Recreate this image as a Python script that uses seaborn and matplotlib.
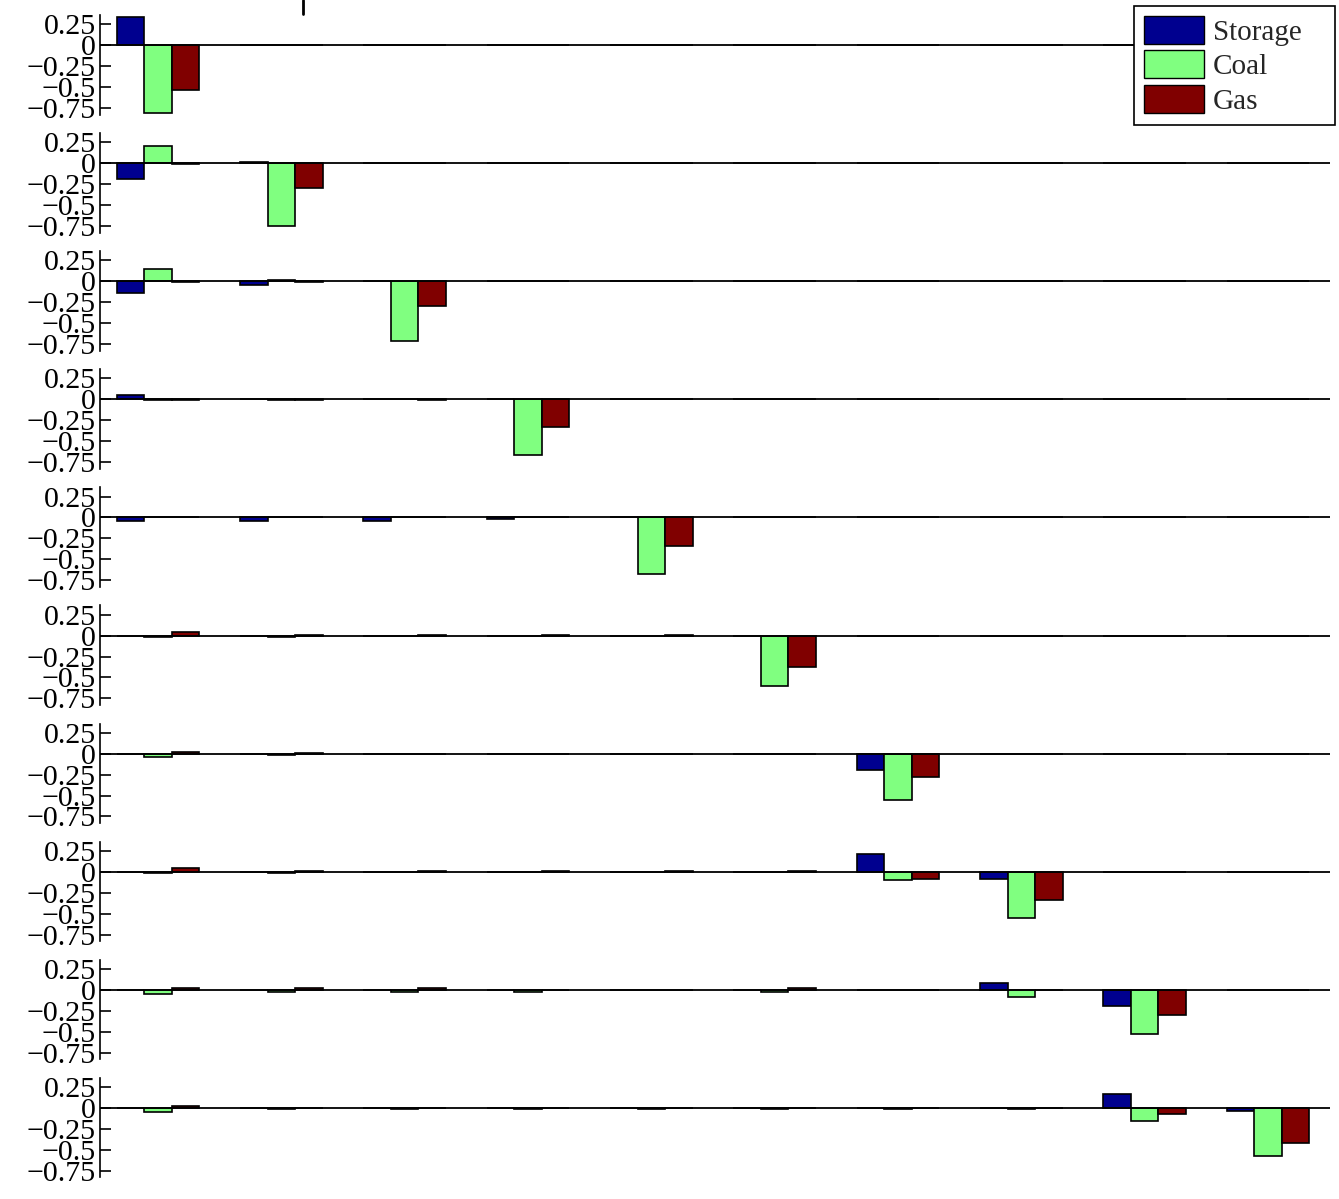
import pandas as pd
import matplotlib.pyplot as plt
import seaborn as sns
from matplotlib.patches import Patch
from matplotlib.lines import Line2D

# Series and categories
sources = ['Storage', 'Coal', 'Gas']
colors = ['#00008F', '#80FF80', '#800000']
groups = list(range(1, 11))
ytick_vals = [-0.75, -0.5, -0.25, 0, 0.25]
ytick_labels = ['\u22120.75', '\u22120.5', '\u22120.25', '0', '0.25']

# one row of 10 group values per panel
storage = [
    [0.34, 0, 0, 0, 0, 0, 0, 0, 0, 0],
    [-0.19, 0.01, 0, 0, 0, 0, 0, 0, 0, 0],
    [-0.14, -0.04, 0, 0, 0, 0, 0, 0, 0, 0],
    [0.05, 0.01, 0.01, 0.01, 0, 0, 0, 0, 0, 0],
    [-0.04, -0.04, -0.04, -0.02, 0, 0, 0, 0, 0, 0],
    [0, 0, 0, 0, 0, 0, 0, 0, 0, 0],
    [0, 0, 0, 0, 0, 0, -0.19, 0, 0, 0],
    [0, 0, 0, 0, 0, 0, 0.21, -0.09, 0, 0],
    [0, 0, 0, 0, 0, 0, 0, 0.085, -0.19, 0],
    [0, 0, 0, 0, 0, 0, 0, 0, 0.17, -0.04],
]
coal = [
    [-0.81, 0, 0, 0, 0, 0, 0, 0, 0, 0],
    [0.20, -0.75, 0, 0, 0, 0, 0, 0, 0, 0],
    [0.15, 0.01, -0.71, 0, 0, 0, 0, 0, 0, 0],
    [-0.01, -0.01, 0, -0.66, 0, 0, 0, 0, 0, 0],
    [0.01, 0, 0.01, 0, -0.68, 0, 0, 0, 0, 0],
    [-0.02, -0.02, 0, 0, 0, -0.60, 0, 0, 0, 0],
    [-0.04, -0.02, -0.01, -0.01, -0.01, -0.01, -0.55, 0, 0, 0],
    [-0.02, -0.02, 0, 0, 0, 0, -0.10, -0.55, 0, 0],
    [-0.05, -0.02, -0.02, -0.02, 0, -0.02, 0, -0.09, -0.53, 0],
    [-0.05, -0.01, -0.01, -0.01, -0.01, -0.01, -0.01, -0.01, -0.155, -0.575],
]
gas = [
    [-0.54, 0, 0, 0, 0, 0, 0, 0, 0, 0],
    [-0.01, -0.30, 0, 0, 0, 0, 0, 0, 0, 0],
    [-0.01, -0.01, -0.29, 0, 0, 0, 0, 0, 0, 0],
    [-0.01, -0.01, -0.01, -0.33, 0, 0, 0, 0, 0, 0],
    [0, 0, 0, 0, -0.34, 0, 0, 0, 0, 0],
    [0.04, 0.01, 0.01, 0.01, 0.01, -0.38, 0, 0, 0, 0],
    [0.02, 0.01, 0, 0, 0, 0, -0.28, 0, 0, 0],
    [0.04, 0.01, 0.01, 0.01, 0.01, 0.01, -0.09, -0.34, 0, 0],
    [0.02, 0.02, 0.02, 0, 0, 0.02, 0, 0, -0.30, 0],
    [0.02, 0, 0, 0, 0, 0, 0, 0, -0.07, -0.42],
]

sns.set_style('white')
plt.rcParams['font.family'] = ['Liberation Serif', 'DejaVu Serif']

# long table
rows = []
for r in range(len(storage)):
    for name, series in zip(sources, [storage, coal, gas]):
        for g, v in zip(groups, series[r]):
            rows.append({'row': r, 'group': g, 'source': name, 'value': v})
df = pd.DataFrame(rows)

fig, axes = plt.subplots(10, 1, figsize=(13.39, 11.99), dpi=100)
fig.subplots_adjust(left=0.0747, right=0.993, top=0.9875, bottom=0.018, hspace=0.185)

for r, ax in enumerate(axes):
    sns.barplot(data=df[df['row'] == r], x='group', y='value', hue='source',
                hue_order=sources, palette=colors, saturation=1, width=0.67, gap=0,
                edgecolor='black', linewidth=1.2, errorbar=None, legend=False, ax=ax)
    ax.axhline(0, color='black', lw=1.3, zorder=5)
    ax.set_xlim(-0.47, 9.5)
    ax.set_ylim(-0.83, 0.36)
    ax.set_yticks(ytick_vals)
    ax.set_yticklabels(ytick_labels)
    ax.set_xticks([])
    ax.set_xlabel('')
    ax.set_ylabel('')
    for s in ['top', 'right', 'bottom']:
        ax.spines[s].set_visible(False)
    ax.spines['left'].set_color('black')
    ax.spines['left'].set_linewidth(1.2)
    ax.tick_params(axis='y', direction='in', length=8, width=1.2, pad=3,
                   labelsize=21.5, left=True, colors='black')

handles = [Patch(facecolor=c, edgecolor='black', label=s) for s, c in zip(sources, colors)]
# legend box stretched to the reference width (x 1134..1335 px)
leg = fig.legend(handles=handles, loc='upper left',
                 bbox_to_anchor=(1134 / 1339, 0.995, 201 / 1339, 0.0), mode='expand',
                 fontsize=21, fancybox=False, framealpha=1, edgecolor='black',
                 handlelength=2.05, handleheight=1.1, labelspacing=0.15,
                 handletextpad=0.3, borderpad=0.35, borderaxespad=0)
leg.get_frame().set_linewidth(1.2)

# stray mark at the top edge of the original figure
fig.add_artist(Line2D([303 / 1339, 303 / 1339], [1, 1 - 14 / 1199], color='black', lw=2))

plt.savefig('out.png', dpi=100)
